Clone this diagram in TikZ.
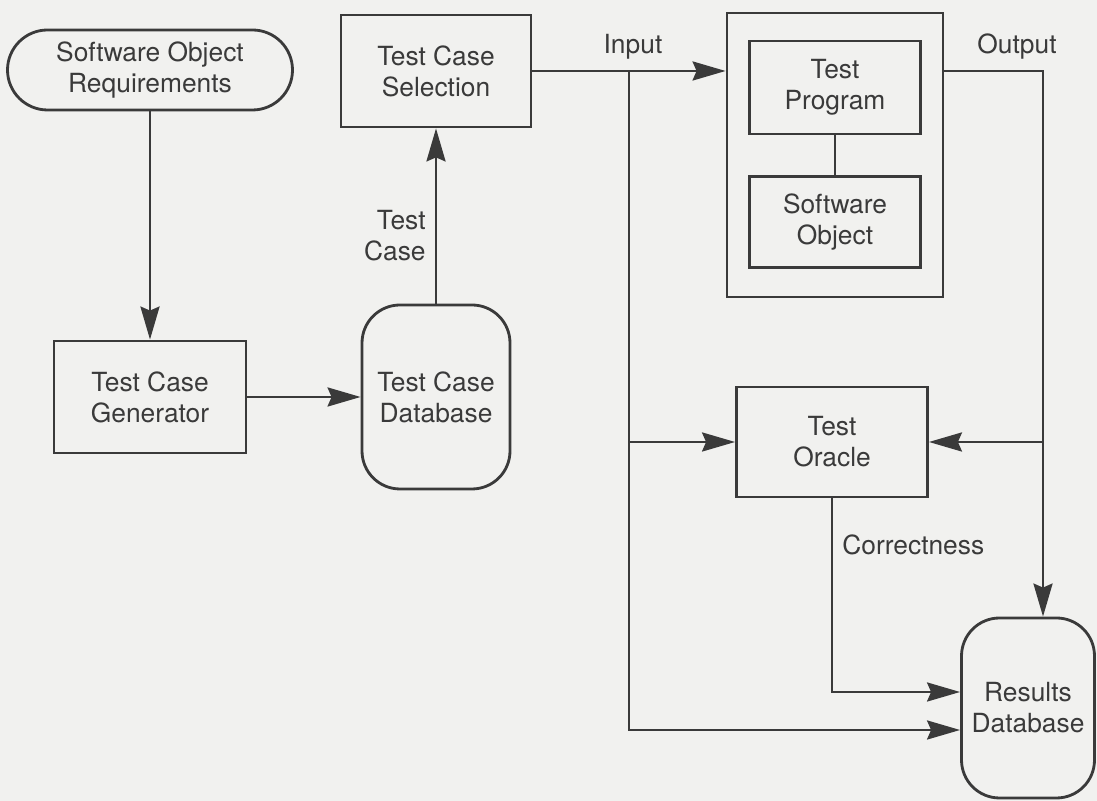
\documentclass[tikz,border=0pt]{standalone}
\usepackage{fontspec}
\setmainfont{TeX Gyre Heros}
\usepackage{tikz}
\usetikzlibrary{arrows.meta,calc}
\definecolor{paper}{RGB}{241,241,239}
\definecolor{ink}{RGB}{58,58,58}

\begin{document}
\begin{tikzpicture}[
    font=\fontsize{7.5}{8.8}\selectfont,
    box/.style={draw=ink, line width=0.8pt, align=center, inner sep=0pt, text=ink},
    stadium/.style={box, rounded corners=0.4cm},
    dbase/.style={box, rounded corners=0.38cm},
    flow/.style={draw=ink, line width=0.8pt, -{Stealth[length=0.33cm,width=0.19cm,inset=0.04cm]}},
    wire/.style={draw=ink, line width=0.8pt},
    tag/.style={text=ink, inner sep=0.09cm}
]
    %% Background
    \fill[paper] (0,0) rectangle (10.97,-8.01);
    \useasboundingbox (0,0) rectangle (10.97,-8.01);

    %% Boxes
    \node[stadium, minimum width=2.85cm, minimum height=0.8cm] (req) at (1.50,-0.70) {Software Object\\Requirements};
    \node[box, minimum width=1.92cm, minimum height=1.12cm] (gen) at (1.50,-3.97) {Test Case\\Generator};
    \node[dbase, minimum width=1.48cm, minimum height=1.84cm] (casedb) at (4.36,-3.97) {Test Case\\Database};
    \node[box, minimum width=1.90cm, minimum height=1.12cm] (select) at (4.36,-0.71) {Test Case\\Selection};
    \node[box, minimum width=2.16cm, minimum height=2.84cm] (harness) at (8.35,-1.55) {};
    \node[box, minimum width=1.71cm, minimum height=0.93cm] (prog) at (8.35,-0.875) {Test\\Program};
    \node[box, minimum width=1.71cm, minimum height=0.91cm] (obj) at (8.35,-2.22) {Software\\Object};
    \node[box, minimum width=1.91cm, minimum height=1.10cm] (oracle) at (8.32,-4.42) {Test\\Oracle};
    \node[dbase, minimum width=1.33cm, minimum height=1.80cm] (results) at (10.28,-7.08) {Results\\Database};

    %% Forks
    \coordinate (infork) at (6.29,-0.71);
    \coordinate (outfork) at (10.43,-0.71);

    %% Connectors
    \draw[flow] (req) -- (gen);
    \draw[flow] (gen) -- (casedb);
    \draw[flow] (casedb) -- node[tag, left, align=right, pos=0.39] {Test\\Case} (select);
    \draw[flow] (select.east) -- (select.east -| harness.west);
    \draw[wire] (prog) -- (obj);
    \draw[flow] (infork) |- (oracle);
    \draw[flow] (infork) |- ($(results.west)+(0,-0.22)$);
    \draw[flow] (harness.east |- outfork) -- (outfork) -- (outfork |- results.north);
    \draw[flow] (outfork |- oracle.east) -- (oracle.east);
    \draw[flow] (oracle.south) |- node[tag, right, pos=0.12] {Correctness} ($(results.west)+(0,0.16)$);

    %% Labels
    \node[tag] (inlabel) at (6.33,-0.47) {Input};
    \node[tag] (outlabel) at (10.17,-0.47) {Output};
\end{tikzpicture}
\end{document}
